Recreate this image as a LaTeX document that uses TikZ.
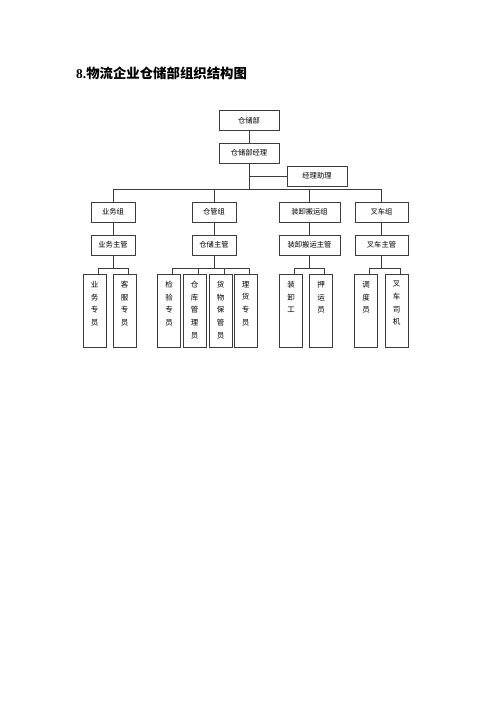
\documentclass[tikz,border=0pt]{standalone}
\usepackage{fontspec}
\setmainfont{Liberation Serif}
\newfontfamily\cjk{Noto Sans CJK SC}
\usetikzlibrary{positioning}
\definecolor{linegray}{RGB}{60,60,60}

\begin{document}
\begin{tikzpicture}[x=1pt,y=-1pt,
    box/.style={draw=linegray, line width=0.7pt, inner sep=0pt, minimum height=20,
      font=\cjk\fontsize{7.3}{9}\selectfont},
    leaf/.style={draw=linegray, line width=0.7pt, inner sep=0pt, minimum width=23, minimum height=73,
      label={[anchor=north, yshift=-4, align=center, font=\cjk\fontsize{7.5}{12.7}\selectfont]north:#1}},
    link/.style={draw=linegray, line width=0.7pt}]
    \useasboundingbox (0,0) rectangle (500,707);

    \node[anchor=west, inner sep=0pt, font=\bfseries\fontsize{13.4}{16}\selectfont] (title) at (76,73.5)
      {8.{\cjk 物流企业仓储部组织结构图}};

    \node[box, minimum width=60] (dept) at (249,120.5) {仓储部};
    \node[box, minimum width=60] (mgr)  at (249,153)   {仓储部经理};
    \node[box, minimum width=60] (asst) at (317,176)   {经理助理};

    \node[box, minimum width=44] (gA) at (113,212)   {业务组};
    \node[box, minimum width=44] (gB) at (214,212)   {仓管组};
    \node[box, minimum width=61] (gC) at (309.5,212) {装卸搬运组};
    \node[box, minimum width=53] (gD) at (381.5,212) {叉车组};

    \node[box, minimum width=44] (sA) at (113,245)   {业务主管};
    \node[box, minimum width=44] (sB) at (214,245)   {仓储主管};
    \node[box, minimum width=61] (sC) at (309.5,245) {装卸搬运主管};
    \node[box, minimum width=53] (sD) at (381.5,245) {叉车主管};

    \node[leaf={业\\务\\专\\员}] (lA1) at (94.5,310.5)  {};
    \node[leaf={客\\服\\专\\员}] (lA2) at (124.5,310.5) {};
    \node[leaf={检\\验\\专\\员}] (lB1) at (169,310.5)   {};
    \node[leaf={仓\\库\\管\\理\\员}] (lB2) at (194.5,310.5) {};
    \node[leaf={货\\物\\保\\管\\员}] (lB3) at (220.5,310.5) {};
    \node[leaf={理\\货\\专\\员}] (lB4) at (245.5,310.5) {};
    \node[leaf={装\\卸\\工}]     (lC1) at (291,310.5)   {};
    \node[leaf={押\\运\\员}]     (lC2) at (321,310.5)   {};
    \node[leaf={调\\度\\员}]     (lD1) at (366,310.5)   {};
    \node[leaf={叉\\车\\司\\机}] (lD2) at (396.5,310.5) {};

    % top of the chart
    \draw[link] (dept) -- (mgr);
    \draw[link] (mgr.south) -- ++(0,26) coordinate (hub);
    \draw[link] (mgr.south |- asst.west) -- (asst.west);
    \foreach \g in {gA,gB,gC,gD}
        \draw[link] (\g.north) |- (hub);

    % groups down to the staff
    \foreach \g/\s in {gA/sA,gB/sB,gC/sC,gD/sD} {
        \draw[link] (\g) -- (\s);
        \draw[link] (\s.south) -- ++(0,12.5) coordinate (h\s);
    }
    \foreach \l in {lA1,lA2}         \draw[link] ([xshift=3.5]\l.north) |- (hsA);
    \foreach \l in {lB1,lB2,lB3,lB4} \draw[link] ([xshift=3.5]\l.north) |- (hsB);
    \foreach \l in {lC1,lC2}         \draw[link] ([xshift=3.5]\l.north) |- (hsC);
    \foreach \l in {lD1,lD2}         \draw[link] ([xshift=3.5]\l.north) |- (hsD);
\end{tikzpicture}
\end{document}
